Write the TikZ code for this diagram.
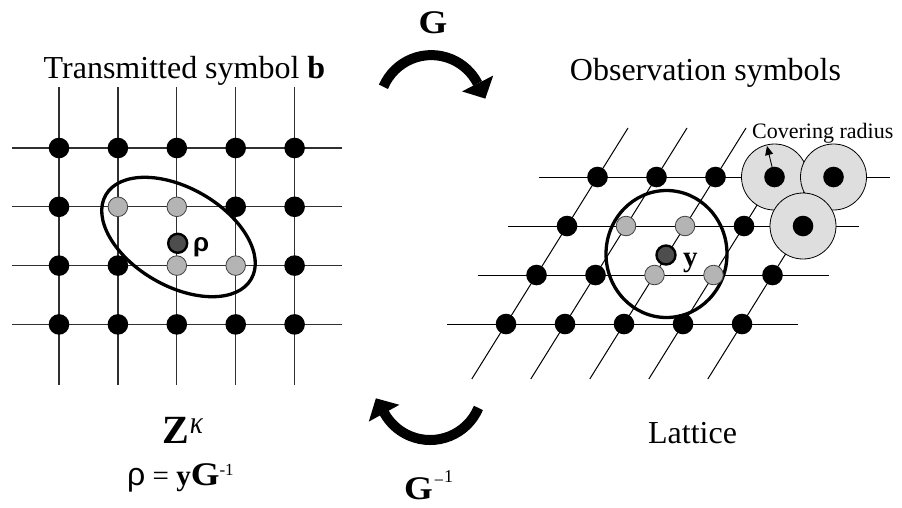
\documentclass[tikz,border=0pt]{standalone}
\usepackage{fontspec}
\setmainfont{Liberation Serif}
\newfontfamily\sansgr{Liberation Sans}
\usetikzlibrary{arrows.meta}
\definecolor{dotgray}{HTML}{B4B4B4}
\definecolor{covgray}{HTML}{DEDEDE}
\definecolor{darkdot}{HTML}{4D4D4D}
\definecolor{gridline}{HTML}{303030}
\begin{document}
\begin{tikzpicture}[x=1pt,y=-1pt,
  bdot/.style={circle,fill=black,inner sep=0pt,minimum size=20.6pt},
  gdot/.style={circle,fill=dotgray,draw=black!75,line width=0.8pt,inner sep=0pt,minimum size=19.6pt},
  ddot/.style={circle,fill=darkdot,draw=black,line width=2.4pt,inner sep=0pt,minimum size=19pt},
  covc/.style={circle,fill=covgray,draw=black,line width=0.8pt,inner sep=0pt,minimum size=66pt},
  lgrid/.style={draw=gridline,line width=1.2pt},
  rgrid/.style={draw=black,line width=1pt},
  thickring/.style={draw=black,line width=3.3pt},
  bigarrow/.style={line width=10pt},
  lbl/.style={inner sep=0pt,font=\fontsize{32}{38}\selectfont},
  mlbl/.style={inner sep=0pt,font=\fontsize{29}{33}\selectfont},
]
\useasboundingbox (0,0) rectangle (902,507);

% ---------- left square grid ----------
\foreach \i in {0,...,4}{
  \coordinate (LT\i) at ({59+58.9*\i},87);
  \coordinate (LB\i) at ({59+58.9*\i},385);
  \draw[lgrid] (LT\i) -- (LB\i);
}
\foreach \j in {0,...,3}{
  \coordinate (LL\j) at (12,{148+58.8*\j});
  \coordinate (LR\j) at (342,{148+58.8*\j});
  \draw[lgrid] (LL\j) -- (LR\j);
}
\draw[thickring, rotate around={-30:(178.5,237)}] (178.5,237) ellipse [x radius=84, y radius=49];
\foreach \i/\j/\s in {0/0/bdot,1/0/bdot,2/0/bdot,3/0/bdot,4/0/bdot,
  0/1/bdot,1/1/gdot,2/1/gdot,3/1/bdot,4/1/bdot,
  0/2/bdot,1/2/bdot,2/2/gdot,3/2/gdot,4/2/bdot,
  0/3/bdot,1/3/bdot,2/3/bdot,3/3/bdot,4/3/bdot}
  \node[\s] (L\i-\j) at ({59+58.9*\i},{148+58.8*\j}) {};
\node[ddot] (rhodot) at (177.7,243.3) {};
\node[anchor=base west, inner sep=0pt, font=\sansgr\bfseries\fontsize{26}{30}\selectfont] (rholbl) at (193,251.5) {ρ};

% ---------- right skewed lattice ----------
\foreach \j in {0,...,3}{
  \coordinate (RL\j) at ({506+30.5*\j-59},{324-49*\j});
  \coordinate (RR\j) at ({506+30.5*\j+292},{324-49*\j});
  \draw[rgrid] (RL\j) -- (RR\j);
}
\foreach \i/\t in {0/4,1/4,2/4,3/3,4/3}{
  \coordinate (RB\i) at ({506+59*\i-34.2},379);
  \coordinate (RT\i) at ({506+59*\i+30.5*\t},{324-49*\t});
  \draw[rgrid] (RB\i) -- (RT\i);
}
\draw[thickring] (666.5,254) ellipse [x radius=60.5, y radius=63.5];
\foreach \i/\j/\s in {0/0/bdot,1/0/bdot,2/0/bdot,3/0/bdot,4/0/bdot,
  0/1/bdot,1/1/bdot,2/1/gdot,3/1/gdot,4/1/bdot,
  0/2/bdot,1/2/gdot,2/2/gdot,3/2/bdot,
  0/3/bdot,1/3/bdot,2/3/bdot}
  \node[\s] (R\i-\j) at ({506+59*\i+30.5*\j},{324-49*\j}) {};
\foreach \i/\j in {3/3,4/3,4/2}{
  \node[covc] (C\i-\j) at ({506+59*\i+30.5*\j},{324-49*\j}) {};
  \node[bdot] (R\i-\j) at ({506+59*\i+30.5*\j},{324-49*\j}) {};
}
\coordinate (crtip) at (767,146);
\draw[line width=0.9pt,-{Triangle[length=9pt,width=8pt]}] (R3-3.center) -- (crtip);
\node[anchor=base west, inner sep=0pt, font=\fontsize{22}{26}\selectfont] (covtxt) at (752,138) {Covering radius};
\node[ddot] (ydot) at (666,255) {};
\node[mlbl, anchor=base west] (ylbl) at (683,266) {\textbf{y}};

% ---------- big curved arrows ----------
\coordinate (TAc) at (431.3,107.1);
\draw[bigarrow] (TAc) ++(-157:52) arc[start angle=-157, end angle=-27, radius=52];
\fill (493.2,75.6) -- (485.3,98.6) -- (462.0,91.4) -- cycle;
\coordinate (BAc) at (430.1,387.6);
\draw[bigarrow] (BAc) ++(22.8:52.4) arc[start angle=22.8, end angle=151.2, radius=52.4];
\fill (368.8,421.6) -- (375.9,398.3) -- (399.4,404.8) -- cycle;

% ---------- labels ----------
\node[lbl, anchor=base] (ttl) at (184.5,78) {Transmitted symbol \textbf{b}};
\node[lbl, anchor=base] (obs) at (705.5,80) {Observation symbols};
\node[lbl, anchor=base] (lat) at (692.5,443) {Lattice};
\node[anchor=base, inner sep=0pt] (Gtop) at (433,33) {\fontsize{33}{36}\selectfont\textbf{\scalebox{1.12}[1]{G}}};
\node[anchor=base west, inner sep=0pt] (Ginv) at (404,499) {\fontsize{33}{36}\selectfont\textbf{\scalebox{1.12}[1]{G}}\kern1pt\raisebox{13pt}{\fontsize{18}{19}\selectfont −}\raisebox{17pt}{\fontsize{18}{19}\selectfont 1}};
\node[anchor=base west, inner sep=0pt] (zk) at (162,443) {\fontsize{40}{44}\selectfont\textbf{Z}\kern1pt\raisebox{10pt}{\scalebox{0.85}[1]{\fontsize{32}{34}\selectfont\itshape κ}}};
\node[mlbl, anchor=base west] (rhoeq) at (127,485) {{\sansgr\fontsize{32}{36}\selectfont ρ} = \textbf{y}{\fontsize{33}{36}\selectfont\textbf{\scalebox{1.12}[1]{G}}}\raisebox{10pt}{\fontsize{17}{18}\selectfont -1}};
\end{tikzpicture}
\end{document}
